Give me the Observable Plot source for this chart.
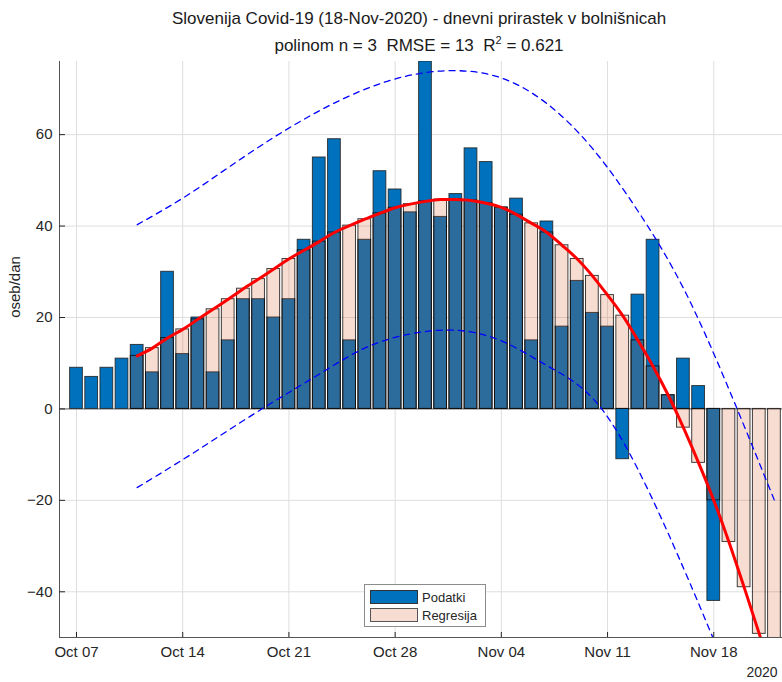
<!DOCTYPE html>
<html><head><meta charset="utf-8">
<script src="https://cdn.jsdelivr.net/npm/d3@7"></script>
<script src="https://cdn.jsdelivr.net/npm/@observablehq/plot@0.6"></script>
<style>
body{margin:0;background:#fff;font-family:"Liberation Sans",Arial,Helvetica,sans-serif;color:#262626;}
#wrap{position:relative;width:782px;height:682px;overflow:hidden;background:#fff;}
#wrap svg{position:absolute;left:0;top:0;}
.title{position:absolute;left:59px;width:720px;text-align:center;font-size:17px;line-height:20px;color:#1a1a1a;white-space:nowrap;}
.ylab{position:absolute;left:14px;top:287px;transform:translate(-50%,-50%) rotate(-90deg);font-size:15px;white-space:nowrap;}
.year{position:absolute;left:762px;top:672px;transform:translate(-50%,-50%);font-size:14px;line-height:16px;}
.legend{position:absolute;left:364px;top:584px;width:120px;height:41px;border:1px solid #8c8c8c;background:#fff;font-size:13px;}
.legend .row{position:absolute;left:5px;height:14px;display:flex;align-items:center;}
.legend .sw{width:46px;height:12px;border:1px solid #333;margin-right:4px;}
</style></head><body><div id="wrap"></div><script>
const DAY = 864e5;
// daily hospital increments (Podatki), starting Oct 07 2020
const dataStart = "2020-10-07";
const podatki = [9,7,9,11,14,8,30,12,20,8,15,24,24,20,24,37,55,59,15,37,52,48,43,76,42,
                 47,57,54,44,46,15,41,18,28,21,18,-11,25,37,3,11,5,-42];
// cubic regression values (Regresija), starting Oct 11 2020
const regStart = "2020-10-11";
const regresija = [11.6,13.3,15.5,17.4,19.6,21.8,24.0,26.3,28.4,30.6,32.8,34.7,36.6,38.6,40.1,41.5,42.8,44.0,44.8,45.4,45.8,
                   45.8,45.6,45.0,44.1,42.5,40.6,38.6,35.8,32.8,29.1,24.9,20.4,15.0,9.3,3.0,-4.1,-11.8,-20.0,-29.1,-39.0,-49.2,-60.0];
// prediction bounds
const upperDates = ["2020-10-11","2020-10-14","2020-10-17","2020-10-20","2020-10-23","2020-10-26","2020-10-29","2020-11-01","2020-11-04","2020-11-07","2020-11-10","2020-11-13","2020-11-16","2020-11-19","2020-11-22"];
const upperVals  = [40.3,46.1,52.8,59.4,65.2,69.9,73.0,74.0,72.4,66.8,57.0,43.3,26.4,4.3,-20.0];
const lowerDates = ["2020-10-11","2020-10-14","2020-10-17","2020-10-20","2020-10-23","2020-10-26","2020-10-29","2020-11-01","2020-11-04","2020-11-07","2020-11-10","2020-11-13","2020-11-16","2020-11-18"];
const lowerVals  = [-17.2,-11.1,-4.7,1.6,7.6,13.3,16.4,17.2,14.9,9.5,2.4,-13.2,-34.8,-50.5];
// axes
const xTickDates  = ["2020-10-07","2020-10-14","2020-10-21","2020-10-28","2020-11-04","2020-11-11","2020-11-18"];
const xTickLabels = ["Oct 07","Oct 14","Oct 21","Oct 28","Nov 04","Nov 11","Nov 18"];
const yTicks = [-40,-20,0,20,40,60];
const yLimits = [-50,76];
const xLimitDays = [-1.12, 4.53]; // before first tick / after last tick

const parse = d3.utcParse("%Y-%m-%d");
const t0 = parse(dataStart), r0 = parse(regStart);
const dataRows = podatki.map((v,i)=>({date:d3.utcDay.offset(t0,i), v}));
const regRows = regresija.map((v,i)=>({date:d3.utcDay.offset(r0,i), v}));
const upRows = upperDates.map((d,i)=>({date:parse(d), v:upperVals[i]}));
const loRows = lowerDates.map((d,i)=>({date:parse(d), v:lowerVals[i]}));
const xTicks = xTickDates.map(parse);
const labelOf = new Map(xTicks.map((d,i)=>[+d, xTickLabels[i]]));
const xDomain = [new Date(+xTicks[0] + xLimitDays[0]*DAY), new Date(+xTicks[xTicks.length-1] + xLimitDays[1]*DAY)];
const half = 0.42*DAY;
const x1 = d => new Date(+d.date - half), x2 = d => new Date(+d.date + half);

const chart = Plot.plot({
  width: 782, height: 682,
  marginTop: 61, marginBottom: 45, marginLeft: 59, marginRight: 0,
  x: {type:"utc", domain: xDomain},
  y: {domain: yLimits},
  style: {fontFamily:'"Liberation Sans", Arial, sans-serif', fontSize:"15px", color:"#262626", background:"white", overflow:"visible"},
  marks: [
    Plot.gridX(xTicks, {stroke:"#dedede", strokeOpacity:1}),
    Plot.gridY(yTicks, {stroke:"#dedede", strokeOpacity:1}),
    Plot.ruleY([0], {stroke:"#666", strokeWidth:1}),
    Plot.rect(dataRows, {x1, x2, y1:0, y2:"v", fill:"#0072BD", stroke:"#222", strokeWidth:1, strokeOpacity:0.85, clip:true}),
    Plot.rect(regRows, {x1, x2, y1:0, y2:"v", fill:"#D95319", fillOpacity:0.2, stroke:"#000", strokeWidth:1, strokeOpacity:0.75, clip:true}),
    Plot.line(regRows, {x:"date", y:"v", stroke:"#ff0000", strokeWidth:3, curve:"natural", clip:true}),
    Plot.line(upRows, {x:"date", y:"v", stroke:"#0000ff", strokeWidth:1.3, strokeDasharray:"6,5", curve:"natural", clip:true}),
    Plot.line(loRows, {x:"date", y:"v", stroke:"#0000ff", strokeWidth:1.3, strokeDasharray:"6,5", curve:"natural", clip:true}),
    Plot.ruleY([yLimits[0]], {stroke:"#555", strokeWidth:1}),
    Plot.ruleX([xDomain[0]], {stroke:"#555", strokeWidth:1}),
    Plot.axisX({ticks: xTicks, tickFormat: d => labelOf.get(+d), tickSize:-5, tickPadding:14, stroke:"#262626", fill:"#262626", label:null}),
    Plot.axisY({ticks: yTicks, tickSize:-6, tickPadding:13, stroke:"#262626", fill:"#262626", label:null})
  ]
});
const wrap = document.getElementById("wrap");
wrap.appendChild(chart);
wrap.insertAdjacentHTML("beforeend", `
<div class="title" style="top:9px">Slovenija Covid-19 (18-Nov-2020) - dnevni prirastek v bolnišnicah</div>
<div class="title" style="top:36px">polinom n = 3&nbsp; RMSE = 13&nbsp; R<sup style="font-size:11px;line-height:0">2</sup> = 0.621</div>
<div class="ylab">oseb/dan</div>
<div class="year">2020</div>
<div class="legend">
  <div class="row" style="top:5px"><div class="sw" style="background:#0072BD"></div>Podatki</div>
  <div class="row" style="top:23px"><div class="sw" style="background:#F7DDD1;border-color:#555"></div>Regresija</div>
</div>`);
</script></body></html>
